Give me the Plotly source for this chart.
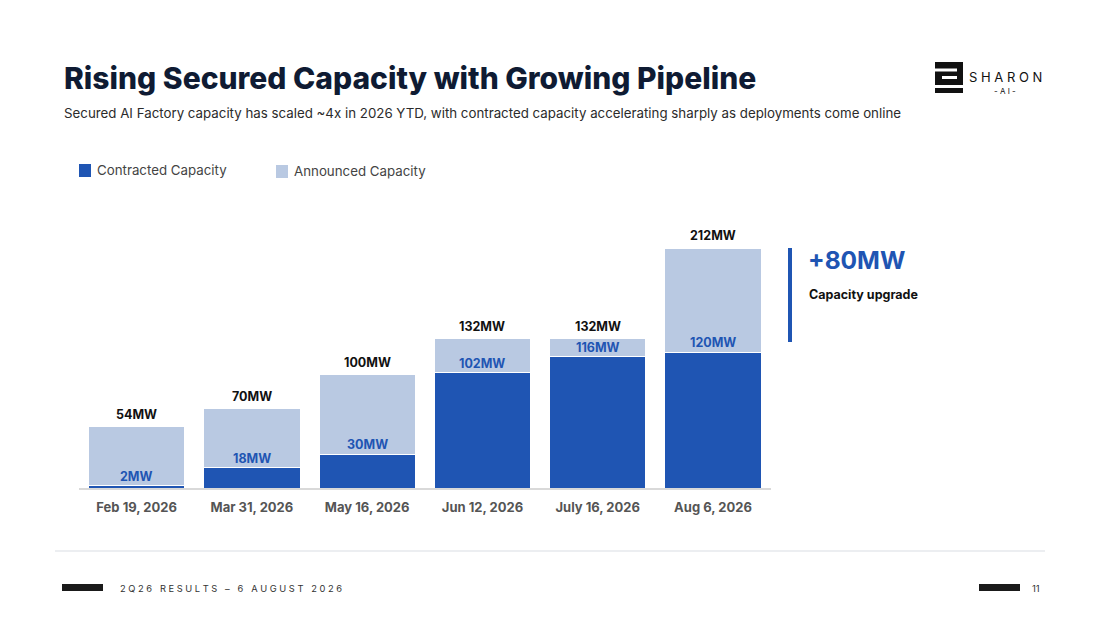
import plotly.graph_objects as go

# data
dates = ["Feb 19, 2026", "Mar 31, 2026", "May 16, 2026", "Jun 12, 2026", "July 16, 2026", "Aug 6, 2026"]
contracted = [2, 18, 30, 102, 116, 120]
total = [54, 70, 100, 132, 132, 212]
announced = [t - c for t, c in zip(total, contracted)]

DARK = "#1f55b3"
LIGHT = "#b9c9e2"
NAVY = "#0f1b33"
FONT = "Inter"

W, H = 1100, 619
OFF = 8  # page body margin


def px(x):
    return (x - OFF) / W


def py(y):
    return 1 - (y - OFF) / H


fig = go.Figure()
fig.add_trace(go.Bar(x=dates, y=contracted, name="Contracted Capacity",
                     marker=dict(color=DARK, line=dict(color="white", width=1))))
fig.add_trace(go.Bar(x=dates, y=announced, name="Announced Capacity",
                     marker=dict(color=LIGHT, line=dict(color="white", width=1))))

ann = []
for d, c, t in zip(dates, contracted, total):
    ann.append(dict(x=d, y=c, xref="x", yref="y", text=f"<b>{c}MW</b>", showarrow=False,
                    yanchor="bottom", yshift=0, font=dict(family=FONT, size=12.5, color=DARK)))
    ann.append(dict(x=d, y=t, xref="x", yref="y", text=f"<b>{t}MW</b>", showarrow=False,
                    yanchor="bottom", yshift=3, font=dict(family=FONT, size=12.5, color="#111111")))

# titles
ann.append(dict(x=px(62), y=py(78), xref="paper", yref="paper", xanchor="left", yanchor="middle",
                text="Rising Secured Capacity with Growing Pipeline", showarrow=False,
                font=dict(family=FONT, size=30, color=NAVY, weight=800)))
ann.append(dict(x=px(62), y=py(113), xref="paper", yref="paper", xanchor="left", yanchor="middle",
                text="Secured AI Factory capacity has scaled ~4x in 2026 YTD, with contracted capacity accelerating sharply as deployments come online",
                showarrow=False, font=dict(family=FONT, size=13.3, color="#2b2b2b")))

# legend (drawn by hand to match position)
ann.append(dict(x=px(95), y=py(170), xref="paper", yref="paper", xanchor="left", yanchor="middle",
                text="Contracted Capacity", showarrow=False, font=dict(family=FONT, size=13.3, color="#444444")))
ann.append(dict(x=px(292), y=py(171), xref="paper", yref="paper", xanchor="left", yanchor="middle",
                text="Announced Capacity", showarrow=False, font=dict(family=FONT, size=13.3, color="#444444")))

# callout
ann.append(dict(x=px(806), y=py(260), xref="paper", yref="paper", xanchor="left", yanchor="middle",
                text="<b>+80MW</b>", showarrow=False, font=dict(family=FONT, size=24.5, color=DARK)))
ann.append(dict(x=px(807), y=py(294), xref="paper", yref="paper", xanchor="left", yanchor="middle",
                text="<b>Capacity upgrade</b>", showarrow=False, font=dict(family=FONT, size=12.5, color="#111111")))

# logo text
ann.append(dict(x=px(1005), y=py(77), xref="paper", yref="paper", xanchor="center", yanchor="middle",
                text="S H A R O N", showarrow=False, font=dict(family=FONT, size=13, color="#111111")))
ann.append(dict(x=px(1005), y=py(91), xref="paper", yref="paper", xanchor="center", yanchor="middle",
                text="- A I -", showarrow=False, font=dict(family=FONT, size=8, color="#111111")))

# footer
ann.append(dict(x=px(118), y=py(588), xref="paper", yref="paper", xanchor="left", yanchor="middle",
                text=" ".join("2Q26 RESULTS – 6 AUGUST 2026"), showarrow=False,
                font=dict(family=FONT, size=9.3, color="#333333")))
ann.append(dict(x=px(1030), y=py(588), xref="paper", yref="paper", xanchor="left", yanchor="middle",
                text="11", showarrow=False, font=dict(family=FONT, size=9.5, color="#333333")))

shapes = [
    # legend swatches
    dict(type="rect", xref="paper", yref="paper", x0=px(79), x1=px(91), y0=py(177), y1=py(164),
         fillcolor=DARK, line_width=0),
    dict(type="rect", xref="paper", yref="paper", x0=px(276), x1=px(288), y0=py(178), y1=py(165),
         fillcolor=LIGHT, line_width=0),
    # callout bar
    dict(type="line", xref="paper", yref="paper", x0=px(790), x1=px(790), y0=py(248), y1=py(342),
         line=dict(color=DARK, width=4)),
    # logo mark
    dict(type="rect", xref="paper", yref="paper", x0=px(935), x1=px(963), y0=py(85), y1=py(62),
         fillcolor="#111111", line_width=0),
    dict(type="rect", xref="paper", yref="paper", x0=px(935), x1=px(957), y0=py(71.5), y1=py(68.5),
         fillcolor="white", line_width=0),
    dict(type="rect", xref="paper", yref="paper", x0=px(942), x1=px(957), y0=py(79), y1=py(76),
         fillcolor="white", line_width=0),
    dict(type="rect", xref="paper", yref="paper", x0=px(935), x1=px(963), y0=py(93), y1=py(88),
         fillcolor="#111111", line_width=0),
    # footer rule and markers
    dict(type="line", xref="paper", yref="paper", x0=px(55), x1=px(1045), y0=py(551), y1=py(551),
         line=dict(color="#e6e8ec", width=1.5)),
    dict(type="rect", xref="paper", yref="paper", x0=px(62), x1=px(103), y0=py(591), y1=py(584),
         fillcolor="#1a1a1a", line_width=0),
    dict(type="rect", xref="paper", yref="paper", x0=px(979), x1=px(1020), y0=py(591), y1=py(584),
         fillcolor="#1a1a1a", line_width=0),
]

fig.update_layout(
    barmode="stack",
    bargap=0.165,
    width=W, height=H,
    margin=dict(l=0, r=0, t=0, b=0),
    paper_bgcolor="white",
    plot_bgcolor="white",
    showlegend=False,
    annotations=ann,
    shapes=shapes,
    font=dict(family=FONT),
    xaxis=dict(domain=[px(79), px(770.6)], showline=True, linecolor="#d9d9d9", linewidth=1.5,
               ticks="", ticklabelstandoff=7,
               tickfont=dict(family=FONT, size=13, color="#555555", weight="bold"),
               fixedrange=True),
    yaxis=dict(domain=[py(488), py(200)], range=[0, 288 / 1.132], visible=False,
               showgrid=False, fixedrange=True),
)

fig.write_html("out.html")
